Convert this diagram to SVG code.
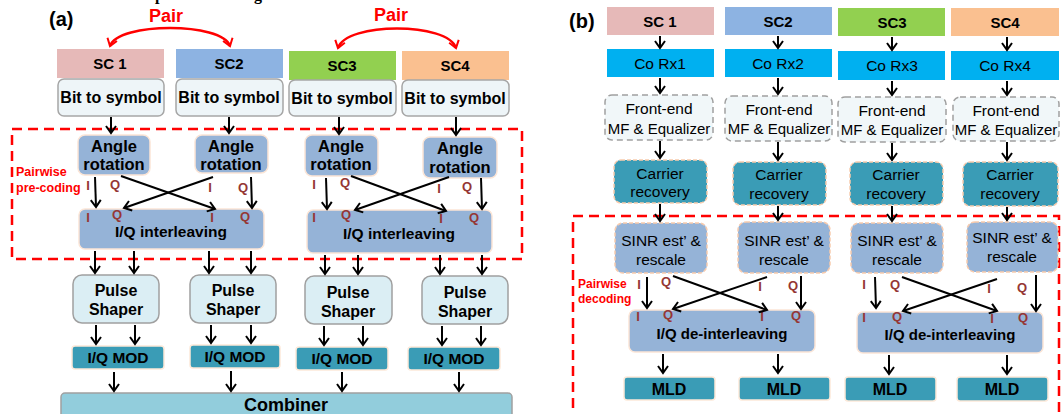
<svg xmlns="http://www.w3.org/2000/svg" width="1061" height="414" viewBox="0 0 1061 414">
<defs>
<style>
text{font-family:"Liberation Sans",Arial,sans-serif;fill:#000}
.b{font-weight:bold}
.t{text-anchor:middle}
.lab{font-weight:bold;font-size:13px;fill:#953735;text-anchor:middle}
.red{fill:#ff0000;font-weight:bold}
.ar{stroke:#000;stroke-width:2;fill:none;marker-end:url(#ah)}
.sc1{fill:#e6b9b8}.sc2{fill:#8db3e2}.sc3{fill:#92d050}.sc4{fill:#fac090}
.bts{fill:#eef5f8;stroke:#a6a6a6;stroke-width:1.5}
.rot{fill:#95b3d7;stroke:#fbe5d6;stroke-width:1.5}
.ps{fill:#dbeef4;stroke:#a0a0a0;stroke-width:1.5}
.mod{fill:#3a9cb6;stroke:#fde9d9;stroke-width:1.5}
.comb{fill:#92cddc;stroke:#a0a0a0;stroke-width:1.5}
.crx{fill:#00b0f0}
.fe{fill:#f1f7f9;stroke:#a0a0a0;stroke-width:1.5;stroke-dasharray:6 4}
.cr{fill:#3a9cb6;stroke:#f8cbad;stroke-width:1.5;stroke-dasharray:4 2}
.sinr{fill:#95b3d7;stroke:#f8cbad;stroke-width:1.5;stroke-dasharray:4 2}
.dash{fill:none;stroke:#ff0000;stroke-width:2.5;stroke-dasharray:10 6}
</style>
<marker id="ah" viewBox="0 0 12 12" refX="10" refY="6" markerWidth="12" markerHeight="12" markerUnits="userSpaceOnUse" orient="auto">
<path d="M3,1 L10,6 L3,11" fill="none" stroke="#000" stroke-width="2"/>
</marker>
<marker id="rh" viewBox="0 0 12 12" refX="10" refY="6" markerWidth="12" markerHeight="12" markerUnits="userSpaceOnUse" orient="auto-start-reverse">
<path d="M3,1 L10,6 L3,11" fill="none" stroke="#ff0000" stroke-width="2"/>
</marker>
</defs>
<rect width="1061" height="414" fill="#fff"/>
<text x="262" y="0" style="font-family:'Liberation Serif',serif;font-weight:bold;font-size:16px;text-anchor:end">Schematic view of pairwise coding</text>

<!-- Panel (a) -->
<text x="49" y="26" class="b" font-size="20">(a)</text>
<rect class="dash" x="12" y="129" width="510" height="130"/>
<text class="red" x="16" y="176" font-size="12.5">Pairwise</text>
<text class="red" x="16" y="192" font-size="12.5">pre-coding</text>

<g id="pair-a">
<path d="M110,46 C118,22 222,22 230,46" fill="none" stroke="#ff0000" stroke-width="2.5" marker-start="url(#rh)" marker-end="url(#rh)"/>
<text class="red t" x="166" y="22" font-size="18">Pair</text>
<path d="M338,48 C346,22 448,22 456,48" fill="none" stroke="#ff0000" stroke-width="2.5" marker-start="url(#rh)" marker-end="url(#rh)"/>
<text class="red t" x="391" y="21" font-size="18">Pair</text>
</g>

<g id="a-sc1"><rect class="sc1" x="57" y="49" width="107" height="29"/><text class="b t" x="110" y="69" font-size="15">SC 1</text></g>
<g id="a-sc2"><rect class="sc2" x="176" y="49" width="107" height="29"/><text class="b t" x="229" y="69" font-size="15">SC2</text></g>
<g id="a-sc3"><rect class="sc3" x="289" y="51" width="107" height="29"/><text class="b t" x="342" y="71" font-size="15">SC3</text></g>
<g id="a-sc4"><rect class="sc4" x="402" y="51" width="107" height="29"/><text class="b t" x="455" y="71" font-size="15">SC4</text></g>

<g id="a-bts1"><rect class="bts" x="58" y="79" width="106" height="37" rx="6"/><text class="b t" x="111" y="103" font-size="16">Bit to symbol</text></g>
<g id="a-bts2"><rect class="bts" x="176" y="79" width="107" height="37" rx="6"/><text class="b t" x="229" y="103" font-size="16">Bit to symbol</text></g>
<g id="a-bts3"><rect class="bts" x="289" y="80" width="107" height="36" rx="6"/><text class="b t" x="342" y="104" font-size="16">Bit to symbol</text></g>
<g id="a-bts4"><rect class="bts" x="402" y="80" width="107" height="36" rx="6"/><text class="b t" x="455" y="104" font-size="16">Bit to symbol</text></g>

<g id="a-rot1"><rect class="rot" x="78" y="135" width="72" height="40" rx="7"/><text class="b t" x="114" y="152" font-size="16.5">Angle</text><text class="b t" x="114" y="170" font-size="16.5">rotation</text></g>
<g id="a-rot2"><rect class="rot" x="195" y="135" width="73" height="38" rx="7"/><text class="b t" x="231" y="152" font-size="16.5">Angle</text><text class="b t" x="231" y="170" font-size="16.5">rotation</text></g>
<g id="a-rot3"><rect class="rot" x="305" y="135" width="73" height="41" rx="7"/><text class="b t" x="341" y="152" font-size="16.5">Angle</text><text class="b t" x="341" y="170" font-size="16.5">rotation</text></g>
<g id="a-rot4"><rect class="rot" x="423" y="137" width="74" height="41" rx="7"/><text class="b t" x="460" y="154" font-size="16.5">Angle</text><text class="b t" x="460" y="173" font-size="16.5">rotation</text></g>

<g id="a-iq1"><rect class="rot" x="79" y="209" width="185" height="40" rx="6"/><text class="b t" x="171" y="237" font-size="15.5">I/Q interleaving</text></g>
<g id="a-iq2"><rect class="rot" x="307" y="210" width="185" height="43" rx="6"/><text class="b t" x="399" y="239" font-size="15.5">I/Q interleaving</text></g>

<g id="a-ps1"><rect class="ps" x="73" y="275" width="86" height="48" rx="9"/><text class="b t" x="116" y="296" font-size="16">Pulse</text><text class="b t" x="116" y="315" font-size="16">Shaper</text></g>
<g id="a-ps2"><rect class="ps" x="190" y="275" width="86" height="48" rx="9"/><text class="b t" x="233" y="296" font-size="16">Pulse</text><text class="b t" x="233" y="315" font-size="16">Shaper</text></g>
<g id="a-ps3"><rect class="ps" x="305" y="276" width="87" height="48" rx="9"/><text class="b t" x="348" y="298" font-size="16">Pulse</text><text class="b t" x="348" y="317" font-size="16">Shaper</text></g>
<g id="a-ps4"><rect class="ps" x="422" y="276" width="86" height="48" rx="9"/><text class="b t" x="465" y="298" font-size="16">Pulse</text><text class="b t" x="465" y="317" font-size="16">Shaper</text></g>

<g id="a-mod1"><rect class="mod" x="72" y="346" width="92" height="23" rx="3"/><text class="b t" x="118" y="363" font-size="15.5">I/Q MOD</text></g>
<g id="a-mod2"><rect class="mod" x="190" y="345" width="90" height="23" rx="3"/><text class="b t" x="235" y="362" font-size="15.5">I/Q MOD</text></g>
<g id="a-mod3"><rect class="mod" x="296" y="347" width="92" height="23" rx="3"/><text class="b t" x="342" y="364" font-size="15.5">I/Q MOD</text></g>
<g id="a-mod4"><rect class="mod" x="408" y="347" width="92" height="23" rx="3"/><text class="b t" x="454" y="364" font-size="15.5">I/Q MOD</text></g>

<g id="a-combiner"><rect class="comb" x="61" y="393" width="451" height="30" rx="4"/><text class="b t" x="286" y="411" font-size="18">Combiner</text></g>

<g id="a-iqlabels">
<text class="lab" x="88" y="190">I</text><text class="lab" x="115" y="189">Q</text><text class="lab" x="210" y="192">I</text><text class="lab" x="243" y="192">Q</text>
<text class="lab" x="88" y="222">I</text><text class="lab" x="117" y="219">Q</text><text class="lab" x="212" y="222">I</text><text class="lab" x="245" y="221">Q</text>
<text class="lab" x="314" y="189">I</text><text class="lab" x="345" y="187">Q</text><text class="lab" x="439" y="193">I</text><text class="lab" x="467" y="191">Q</text>
<text class="lab" x="314" y="222">I</text><text class="lab" x="346" y="219">Q</text><text class="lab" x="441" y="223">I</text><text class="lab" x="474" y="222">Q</text>
</g>

<!-- Panel (b) -->
<text x="569" y="28" class="b" font-size="20">(b)</text>
<rect class="dash" x="573" y="216" width="486" height="210"/>
<text class="red" x="578" y="288" font-size="12">Pairwise</text>
<text class="red" x="578" y="303" font-size="12">decoding</text>

<g id="b-sc1"><rect class="sc1" x="607" y="7" width="107" height="28"/><text class="b t" x="660" y="27" font-size="15">SC 1</text></g>
<g id="b-sc2"><rect class="sc2" x="725" y="7" width="107" height="28"/><text class="b t" x="778" y="27" font-size="15">SC2</text></g>
<g id="b-sc3"><rect class="sc3" x="838" y="8" width="107" height="28"/><text class="b t" x="892" y="28" font-size="15">SC3</text></g>
<g id="b-sc4"><rect class="sc4" x="951" y="8" width="108" height="28"/><text class="b t" x="1005" y="28" font-size="15">SC4</text></g>

<g id="b-rx1"><rect class="crx" x="607" y="49" width="107" height="28"/><text class="t" x="660" y="69" font-size="15.5">Co Rx1</text></g>
<g id="b-rx2"><rect class="crx" x="725" y="49" width="107" height="28"/><text class="t" x="778" y="69" font-size="15.5">Co Rx2</text></g>
<g id="b-rx3"><rect class="crx" x="838" y="51" width="107" height="29"/><text class="t" x="892" y="71" font-size="15.5">Co Rx3</text></g>
<g id="b-rx4"><rect class="crx" x="951" y="51" width="108" height="29"/><text class="t" x="1005" y="71" font-size="15.5">Co Rx4</text></g>

<g id="b-fe1"><rect class="fe" x="605" y="95" width="108" height="45" rx="7"/><text class="t" x="659" y="113.5" font-size="15.5">Front-end</text><text class="t" x="659" y="133.5" font-size="15">MF &amp; Equalizer</text></g>
<g id="b-fe2"><rect class="fe" x="725" y="96" width="107" height="45" rx="7"/><text class="t" x="779" y="114.5" font-size="15.5">Front-end</text><text class="t" x="779" y="134" font-size="15">MF &amp; Equalizer</text></g>
<g id="b-fe3"><rect class="fe" x="838" y="97" width="108" height="45" rx="7"/><text class="t" x="892" y="115.5" font-size="15.5">Front-end</text><text class="t" x="892" y="134.5" font-size="15">MF &amp; Equalizer</text></g>
<g id="b-fe4"><rect class="fe" x="953" y="97" width="106" height="44" rx="7"/><text class="t" x="1006" y="115.5" font-size="15.5">Front-end</text><text class="t" x="1006" y="134.5" font-size="15">MF &amp; Equalizer</text></g>

<g id="b-cr1"><rect class="cr" x="614" y="160" width="93" height="43" rx="7"/><text class="t" x="660" y="178.5" font-size="15.5">Carrier</text><text class="t" x="660" y="197" font-size="15.5">recovery</text></g>
<g id="b-cr2"><rect class="cr" x="733" y="162" width="93" height="43" rx="7"/><text class="t" x="779" y="180" font-size="15.5">Carrier</text><text class="t" x="779" y="198.5" font-size="15.5">recovery</text></g>
<g id="b-cr3"><rect class="cr" x="850" y="162" width="93" height="43" rx="7"/><text class="t" x="896" y="180" font-size="15.5">Carrier</text><text class="t" x="896" y="198.5" font-size="15.5">recovery</text></g>
<g id="b-cr4"><rect class="cr" x="963" y="162" width="95" height="44" rx="7"/><text class="t" x="1010" y="180" font-size="15.5">Carrier</text><text class="t" x="1010" y="198.5" font-size="15.5">recovery</text></g>

<g id="b-sinr1"><rect class="sinr" x="615" y="223" width="92" height="50" rx="8"/><text class="t" x="661" y="245.5" font-size="15.5">SINR est’ &amp;</text><text class="t" x="661" y="264.5" font-size="15.5">rescale</text></g>
<g id="b-sinr2"><rect class="sinr" x="738" y="222" width="92" height="51" rx="8"/><text class="t" x="784" y="245.5" font-size="15.5">SINR est’ &amp;</text><text class="t" x="784" y="264.5" font-size="15.5">rescale</text></g>
<g id="b-sinr3"><rect class="sinr" x="851" y="223" width="92" height="50" rx="8"/><text class="t" x="897" y="245.5" font-size="15.5">SINR est’ &amp;</text><text class="t" x="897" y="264.5" font-size="15.5">rescale</text></g>
<g id="b-sinr4"><rect class="sinr" x="967" y="222" width="91" height="50" rx="8"/><text class="t" x="1012" y="242.5" font-size="15.5">SINR est’ &amp;</text><text class="t" x="1012" y="262" font-size="15.5">rescale</text></g>

<g id="b-deiq1"><rect class="rot" x="629" y="310" width="186" height="42" rx="6"/><text class="b t" x="722" y="338.5" font-size="15">I/Q de-interleaving</text></g>
<g id="b-deiq2"><rect class="rot" x="857" y="312" width="186" height="41" rx="6"/><text class="b t" x="950" y="339.5" font-size="15">I/Q de-interleaving</text></g>

<g id="b-mld1"><rect class="mod" x="624" y="377" width="91" height="23" rx="3"/><text class="b t" x="669" y="394.5" font-size="16">MLD</text></g>
<g id="b-mld2"><rect class="mod" x="739" y="377" width="91" height="23" rx="3"/><text class="b t" x="784" y="394.5" font-size="16">MLD</text></g>
<g id="b-mld3"><rect class="mod" x="845" y="377" width="91" height="24" rx="3"/><text class="b t" x="890" y="395" font-size="16">MLD</text></g>
<g id="b-mld4"><rect class="mod" x="957" y="377" width="91" height="24" rx="3"/><text class="b t" x="1002" y="395" font-size="16">MLD</text></g>

<g id="b-iqlabels">
<text class="lab" x="639" y="289">I</text><text class="lab" x="666" y="286">Q</text><text class="lab" x="760" y="291">I</text><text class="lab" x="793" y="290">Q</text>
<text class="lab" x="638" y="321">I</text><text class="lab" x="668" y="319">Q</text><text class="lab" x="762" y="321">I</text><text class="lab" x="796" y="320">Q</text>
<text class="lab" x="864" y="289">I</text><text class="lab" x="895" y="289">Q</text><text class="lab" x="989" y="293">I</text><text class="lab" x="1022" y="292">Q</text>
<text class="lab" x="864" y="322">I</text><text class="lab" x="897" y="321">Q</text><text class="lab" x="992" y="323">I</text><text class="lab" x="1023" y="322">Q</text>
</g>

<g id="connectors">
<!-- (a) -->
<path class="ar" d="M111,117V133"/><path class="ar" d="M229,117V133"/><path class="ar" d="M339,117V134"/><path class="ar" d="M456,117V135"/>
<path class="ar" d="M95,177L96,207"/><path class="ar" d="M121,176L215,209"/><path class="ar" d="M213,177L124,208"/><path class="ar" d="M251,177L252,208"/>
<path class="ar" d="M326,178L327,209"/><path class="ar" d="M351,176L446,211"/><path class="ar" d="M449,177L355,210"/><path class="ar" d="M481,178L482,209"/>
<path class="ar" d="M95,251V273"/><path class="ar" d="M134,251V273"/><path class="ar" d="M209,251V273"/><path class="ar" d="M251,251V273"/>
<path class="ar" d="M325,255V274"/><path class="ar" d="M358,255V274"/><path class="ar" d="M440,255V274"/><path class="ar" d="M482,255V274"/>
<path class="ar" d="M96,325V344"/><path class="ar" d="M135,325V344"/><path class="ar" d="M211,325V343"/><path class="ar" d="M251,325V343"/>
<path class="ar" d="M324,326V345"/><path class="ar" d="M363,326V345"/><path class="ar" d="M442,326V345"/><path class="ar" d="M481,326V345"/>
<path class="ar" d="M114,372V391"/><path class="ar" d="M231,371V391"/><path class="ar" d="M342,372V391"/><path class="ar" d="M459,372V391"/>
<!-- (b) -->
<path class="ar" d="M660,36V48"/><path class="ar" d="M778,36V48"/><path class="ar" d="M892,37V50"/><path class="ar" d="M1007,37V50"/>
<path class="ar" d="M660,78V93"/><path class="ar" d="M778,78V94"/><path class="ar" d="M892,81V95"/><path class="ar" d="M1007,81V95"/>
<path class="ar" d="M660,141V158"/><path class="ar" d="M778,142V160"/><path class="ar" d="M892,143V160"/><path class="ar" d="M1007,142V160"/>
<path class="ar" d="M660,204V221"/><path class="ar" d="M778,206V220"/><path class="ar" d="M892,206V221"/><path class="ar" d="M1007,207V220"/>
<path class="ar" d="M647,277V308"/><path class="ar" d="M673,276L767,310"/><path class="ar" d="M767,277L673,309"/><path class="ar" d="M801,276V309"/>
<path class="ar" d="M875,277L876,308"/><path class="ar" d="M902,277L997,311"/><path class="ar" d="M997,279L903,311"/><path class="ar" d="M1036,275V311"/>
<path class="ar" d="M663,354V373"/><path class="ar" d="M778,354V373"/><path class="ar" d="M889,355V374"/><path class="ar" d="M1007,355V374"/>
</g>
</svg>
